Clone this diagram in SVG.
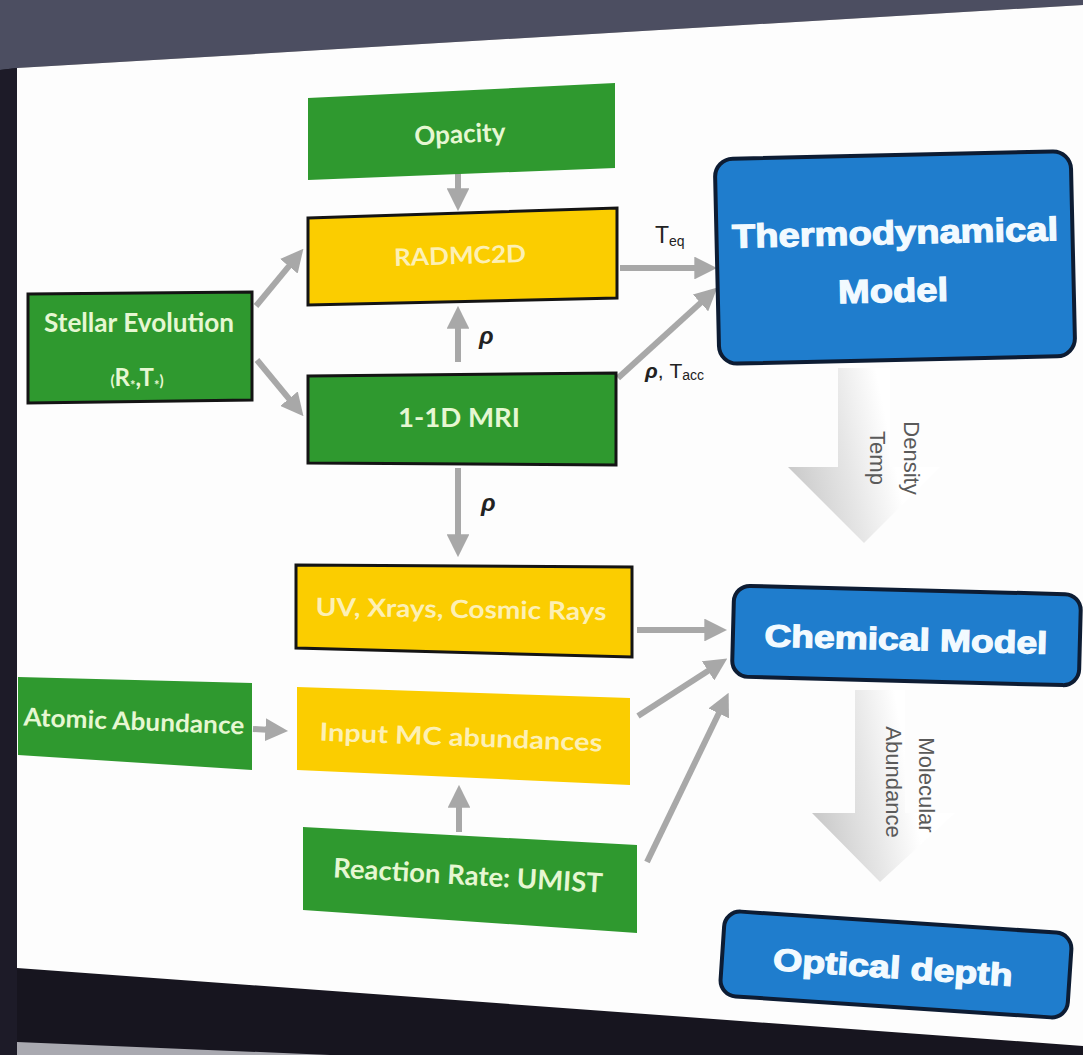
<svg xmlns="http://www.w3.org/2000/svg" width="1083" height="1055" viewBox="0 0 1083 1055">
<defs>
<style>
.g{fill:#2f992f}
.y{fill:#fbcd00}
.bd{stroke:#141414;stroke-width:3}
.blue{fill:#1f7dcd;stroke:#0d1c33;stroke-width:4}
.tg{font-family:Lato,"Open Sans",sans-serif;font-weight:700;fill:#e6f7d2;text-anchor:middle}
.ty{font-family:Lato,"Open Sans",sans-serif;font-weight:700;fill:#fdf0b4;text-anchor:middle}
.tb{font-family:"Liberation Sans",Arial,sans-serif;font-weight:900;fill:#f2faff;stroke:#f2faff;stroke-width:1.2;text-anchor:middle}
.lbl{font-family:"Liberation Sans",Arial,sans-serif;fill:#222}
.rot{font-family:"Liberation Sans",Arial,sans-serif;fill:#5a5a5a;font-size:22px;text-anchor:middle}
.c{stroke:#a8a8a8;stroke-width:6;fill:none;marker-end:url(#ah)}
</style>
<marker id="ah" viewBox="0 0 10 10" refX="2.5" refY="5" markerWidth="3.8" markerHeight="3.8" orient="auto" markerUnits="strokeWidth">
<path d="M0,0 L10,5 L0,10 z" fill="#a8a8a8"/>
</marker>
<linearGradient id="fade" x1="0" y1="0.6" x2="0.85" y2="0.4">
<stop offset="0" stop-color="#c9c9c9"/>
<stop offset="0.45" stop-color="#e6e6e6"/>
<stop offset="0.8" stop-color="#ffffff"/>
</linearGradient>
</defs>

<!-- background -->
<rect x="0" y="0" width="1083" height="1055" fill="#17151f"/>
<polygon points="0,0 1083,0 1083,5 17,68 0,70" fill="#4c4e61"/>
<polygon points="0,70 17,68 17,1055 0,1055" fill="#1d1b28"/>
<polygon points="17,68 1083,5 1083,1046 17,968" fill="#fdfdfd"/>
<polygon points="17,1042 330,1055 17,1055" fill="#a9a9b0"/>

<!-- block arrows -->
<g id="blockarrows">
<polygon points="838,368 890,368 890,467 940,467 864,543 788,467 838,467" fill="url(#fade)"/>
<polygon points="855,690 905,690 905,813 955,813 880,882 812,813 855,813" fill="url(#fade)"/>
<text class="rot" transform="translate(904,458) rotate(90)">Density</text>
<text class="rot" transform="translate(870,458) rotate(90)">Temp</text>
<text class="rot" transform="translate(919,785) rotate(90)">Molecular</text>
<text class="rot" transform="translate(886,782) rotate(90)">Abundance</text>
</g>

<!-- connectors -->
<g id="connectors">
<line class="c" x1="458" y1="172" x2="458" y2="194"/>
<line class="c" x1="256" y1="306" x2="292.5" y2="261.9"/>
<line class="c" x1="257" y1="360" x2="292.6" y2="403.1"/>
<line class="c" x1="458" y1="362" x2="458" y2="323"/>
<line class="c" x1="620" y1="268" x2="700" y2="268"/>
<line class="c" x1="618" y1="378" x2="704.7" y2="299.1"/>
<line class="c" x1="458" y1="468" x2="458" y2="540"/>
<line class="c" x1="637" y1="630" x2="710" y2="630"/>
<line class="c" x1="638" y1="716" x2="712.9" y2="667.8"/>
<line class="c" x1="647" y1="862" x2="721.2" y2="708.2"/>
<line class="c" x1="253" y1="729" x2="271" y2="730"/>
<line class="c" x1="459" y1="832" x2="459" y2="802"/>
<text class="lbl" x="655" y="243" font-size="23">T<tspan font-size="14" dy="3">eq</tspan></text>
<text class="lbl" x="479" y="344" font-size="24" font-style="italic" font-weight="700">ρ</text>
<text class="lbl" x="481" y="511" font-size="24" font-style="italic" font-weight="700">ρ</text>
<text class="lbl" x="645" y="378" font-size="21"><tspan font-style="italic" font-weight="700">ρ</tspan>, T<tspan font-size="14" dy="2">acc</tspan></text>
</g>

<!-- nodes -->
<g id="opacity">
<polygon class="g" points="308,98 615,83 615,168 308,180"/>
<text class="tg" x="460" y="143" font-size="26" transform="rotate(-2.8 460 135)">Opacity</text>
</g>
<g id="radmc2d">
<polygon class="y bd" points="308,218 617,208 617,298 308,305"/>
<text class="ty" x="460" y="264" font-size="24" textLength="132" lengthAdjust="spacingAndGlyphs" transform="rotate(-1.8 460 256)">RADMC2D</text>
</g>
<g id="stellar">
<polygon class="g bd" points="28,294 252,292 252,400 28,403"/>
<text class="tg" x="139" y="332" font-size="26" textLength="190" lengthAdjust="spacingAndGlyphs">Stellar Evolution</text>
<text class="tg" x="137" y="386" font-size="24"><tspan font-size="15">(</tspan>R<tspan font-size="13" dy="4">*</tspan><tspan dy="-4">,T</tspan><tspan font-size="13" dy="4">*</tspan><tspan font-size="15" dy="-4">)</tspan></text>
</g>
<g id="mri">
<polygon class="g bd" points="308,376 616,373 616,465 308,463"/>
<text class="tg" x="459" y="427" font-size="26" textLength="122" lengthAdjust="spacingAndGlyphs">1-1D MRI</text>
</g>
<g id="uv">
<polygon class="y bd" points="296,565 632,567 632,657 296,648"/>
<text class="ty" x="461" y="618" font-size="25" textLength="291" lengthAdjust="spacingAndGlyphs" transform="rotate(0.9 461 610)">UV, Xrays, Cosmic Rays</text>
</g>
<g id="inputmc">
<polygon class="y" points="297,687 630,698 630,785 297,770"/>
<text class="ty" x="461" y="746" font-size="25" textLength="283" lengthAdjust="spacingAndGlyphs" transform="rotate(2.2 461 737)">Input  MC abundances</text>
</g>
<g id="atomic">
<polygon class="g" points="18,677 252,683 252,770 18,755"/>
<text class="tg" x="134" y="730" font-size="25" textLength="221" lengthAdjust="spacingAndGlyphs" transform="rotate(2.3 134 721)">Atomic Abundance</text>
</g>
<g id="reaction">
<polygon class="g" points="303,827 637,845 637,933 303,910"/>
<text class="tg" x="468" y="885" font-size="27" textLength="270" lengthAdjust="spacingAndGlyphs" transform="rotate(3.3 468 876)">Reaction Rate: UMIST</text>
</g>
<g id="thermo">
<rect class="blue" x="717" y="155" width="356" height="205" rx="18" transform="rotate(-1.3 895 257)"/>
<text class="tb" x="895" y="244" font-size="33" textLength="326" lengthAdjust="spacingAndGlyphs" transform="rotate(-1.3 895 232)">Thermodynamical</text>
<text class="tb" x="893" y="302" font-size="33" textLength="110" lengthAdjust="spacingAndGlyphs" transform="rotate(-1.3 893 290)">Model</text>
</g>
<g id="chemical">
<rect class="blue" x="733" y="590" width="347" height="91" rx="16" transform="rotate(1.5 906 635)"/>
<text class="tb" x="906" y="650" font-size="31" textLength="283" lengthAdjust="spacingAndGlyphs" transform="rotate(1.5 906 638)">Chemical Model</text>
</g>
<g id="optical">
<rect class="blue" x="722" y="922" width="348" height="85" rx="16" transform="rotate(3.8 896 964)"/>
<text class="tb" x="893" y="978" font-size="31" textLength="240" lengthAdjust="spacingAndGlyphs" transform="rotate(3.8 893 967)">Optical depth</text>
</g>
</svg>
